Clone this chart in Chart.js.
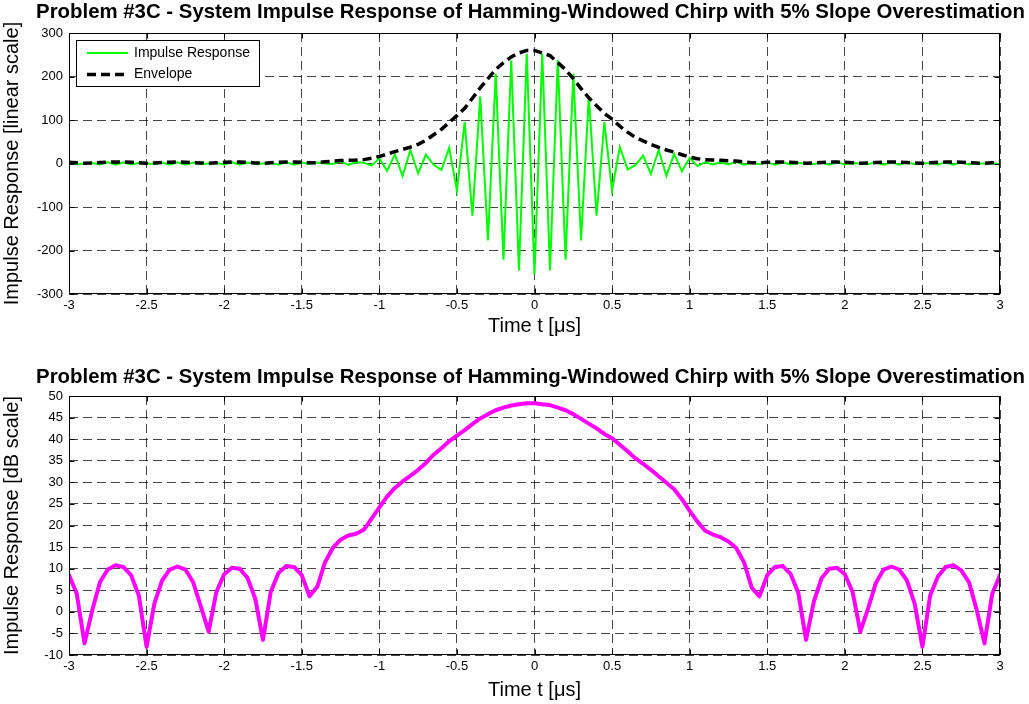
<!DOCTYPE html>
<html>
<head>
<meta charset="utf-8">
<title>System Impulse Response</title>
<script src="https://cdn.jsdelivr.net/npm/chart.js@4.4.1/dist/chart.umd.min.js"></script>
<style>
  html, body { margin: 0; padding: 0; background: #fff; }
  #wrap { position: relative; width: 1029px; height: 704px; overflow: hidden; background: #fff; }
  canvas { position: absolute; left: 0; }
  #linChart { top: 0; }
  #dbChart { top: 360px; }
</style>
</head>
<body>
<div id="wrap">
  <canvas id="linChart" width="1029" height="360"></canvas>
  <canvas id="dbChart" width="1029" height="344"></canvas>
</div>
<script>
// Sample times in microseconds
const timeUs = [
  -3.00, -2.95, -2.90, -2.85, -2.80, -2.75, -2.70, -2.65, -2.60, -2.55,
  -2.50, -2.45, -2.40, -2.35, -2.30, -2.25, -2.20, -2.15, -2.10, -2.05,
  -2.00, -1.95, -1.90, -1.85, -1.80, -1.75, -1.70, -1.65, -1.60, -1.55,
  -1.50, -1.45, -1.40, -1.35, -1.30, -1.25, -1.20, -1.15, -1.10, -1.05,
  -1.00, -0.95, -0.90, -0.85, -0.80, -0.75, -0.70, -0.65, -0.60, -0.55,
  -0.50, -0.45, -0.40, -0.35, -0.30, -0.25, -0.20, -0.15, -0.10, -0.05,
   0.00,  0.05,  0.10,  0.15,  0.20,  0.25,  0.30,  0.35,  0.40,  0.45,
   0.50,  0.55,  0.60,  0.65,  0.70,  0.75,  0.80,  0.85,  0.90,  0.95,
   1.00,  1.05,  1.10,  1.15,  1.20,  1.25,  1.30,  1.35,  1.40,  1.45,
   1.50,  1.55,  1.60,  1.65,  1.70,  1.75,  1.80,  1.85,  1.90,  1.95,
   2.00,  2.05,  2.10,  2.15,  2.20,  2.25,  2.30,  2.35,  2.40,  2.45,
   2.50,  2.55,  2.60,  2.65,  2.70,  2.75,  2.80,  2.85,  2.90,  2.95,
   3.00
];

// Compressed pulse, linear amplitude
const impulseResponse = [
     2,   -1,    0,    1,   -2,    3,   -3,    3,   -2,    1,
     0,   -1,    2,   -3,    3,   -3,    2,   -1,    0,    1,
    -2,    3,   -3,    2,   -1,    0,    1,   -2,    3,   -3,
     2,   -1,    2,    0,   -1,    5,   -3,    3,    2,   -5,
    12,  -17,   21,  -29,   31,  -23,   20,   -3,  -15,   36,
   -62,   95, -120,  154, -177,  206, -221,  237, -246,  252,
  -255,  252, -246,  238, -221,  206, -177,  154, -120,   95,
   -62,   38,  -14,   -4,   18,  -24,   31,  -28,   22,  -18,
    13,   -6,    3,   -2,    3,   -2,    4,   -3,    1,   -1,
     2,   -3,    3,   -2,    1,    0,   -1,    2,   -3,    3,
    -2,    1,    0,   -1,    2,   -3,    3,   -3,    2,   -1,
     0,    1,   -2,    3,   -3,    3,   -2,    0,    0,    1,
    -2
];

// Magnitude envelope, linear amplitude
const envelope = [
   2.7,  1.6,  0.4,  1.0,  2.2,  3.1,  3.5,  3.3,  2.7,  1.5,
   0.4,  1.2,  2.3,  3.1,  3.3,  3.1,  2.2,  1.1,  0.6,  1.7,
   2.7,  3.2,  3.2,  2.5,  1.4,  0.5,  1.7,  2.8,  3.4,  3.3,
   2.7,  1.5,  1.9,  3.8,  5.5,  6.8,  7.7,  8.0,  8.9, 12.0,
  16.2, 21.6, 27.2, 32.4, 37.6, 44.2, 53.1, 66.1, 78.5, 94.4,
   110,  127,  150,  174,  195,  216,  232,  245,  254,  260,
   260,  254,  248,  232,  216,  195,  172,  151,  133,  115,
   102,   86,   72,   60,   52,   44,   37,   31, 26.3, 20.2,
  14.8, 11.1,  8.7,  7.9,  7.3,  6.5,  5.5,  3.8,  1.9,  1.5,
   2.7,  3.3,  3.4,  2.8,  1.7,  0.5,  1.3,  2.5,  3.2,  3.2,
   2.7,  1.7,  0.6,  1.1,  2.2,  3.1,  3.3,  3.1,  2.3,  1.2,
   0.4,  1.5,  2.6,  3.3,  3.5,  3.0,  2.2,  1.0,  0.4,  1.6,
   2.7
];

// Magnitude envelope in dB
const responseDb = [
   8.5,  4.2, -7.3,  0.4,  6.9,  9.8, 10.8, 10.4,  8.5,  3.8,
  -8.1,  1.9,  7.3,  9.8, 10.5,  9.8,  6.9,  1.2, -4.6,  4.6,
   8.7, 10.2, 10.0,  7.9,  3.1, -6.5,  4.6,  9.0, 10.6, 10.4,
   8.5,  3.6,  5.8, 11.5, 14.8, 16.7, 17.7, 18.1, 19.0, 21.6,
  24.2, 26.7, 28.7, 30.2, 31.5, 32.9, 34.5, 36.4, 37.9, 39.5,
  40.8, 42.1, 43.5, 44.8, 45.8, 46.7, 47.3, 47.8, 48.1, 48.3,
  48.3, 48.1, 47.9, 47.3, 46.7, 45.8, 44.7, 43.6, 42.5, 41.2,
  40.2, 38.7, 37.2, 35.6, 34.3, 32.9, 31.4, 29.9, 28.4, 26.1,
  23.4, 20.9, 18.8, 17.9, 17.3, 16.3, 14.8, 11.5,  5.6,  3.6,
   8.5, 10.4, 10.6,  8.8,  4.4, -6.5,  2.3,  7.8, 10.0, 10.2,
   8.7,  4.6, -4.6,  0.8,  6.7,  9.8, 10.5,  9.8,  7.3,  1.9,
  -8.1,  3.8,  8.2, 10.4, 10.8,  9.6,  6.9,  0.4, -7.3,  4.2,
   8.5
];

// Axis ranges and tick spacing
const timeRange = [-3, 3];
const timeStep = 0.5;
const linearRange = [-300, 300];
const linearStep = 100;
const dbRange = [-10, 50];
const dbStep = 5;

const plotTitle = 'Problem #3C - System Impulse Response of Hamming-Windowed Chirp with 5% Slope Overestimation';
const timeLabel = 'Time t [\u03bcs]';
const linearLabel = 'Impulse Response [linear scale]';
const dbLabel = 'Impulse Response [dB scale]';
const seriesNames = ['Impulse Response', 'Envelope'];

const FONT = "'Liberation Sans', Arial, Helvetica, sans-serif";
const GRID_COLOR = 'rgba(0,0,0,0.72)';
const GRID_DASH = [9, 5];

Chart.defaults.font.family = FONT;
Chart.defaults.color = '#000';

const toPoints = (values) => timeUs.map((t, i) => ({ x: t, y: values[i] }));

// Tick text without trailing zeros: -3, -2.5, 0, 0.5 ...
const plainTick = (v) => String(Number(Number(v).toFixed(2)));

// Title centred over the plot box
const axesTitle = {
  id: 'axesTitle',
  afterDraw(chart, args, opts) {
    const { ctx, chartArea: a } = chart;
    ctx.save();
    ctx.fillStyle = '#000';
    ctx.font = `bold ${opts.size}px ${FONT}`;
    ctx.textAlign = 'center';
    ctx.textBaseline = 'middle';
    ctx.fillText(opts.text, (a.left + a.right) / 2 + opts.dx, opts.y);
    ctx.restore();
  }
};

// Box outline plus inward tick marks on all four sides
const axesFrame = {
  id: 'axesFrame',
  afterDatasetsDraw(chart) {
    const { ctx, chartArea: a, scales } = chart;
    const xs = scales.x, ys = scales.y;
    const L = Math.round(a.left) + 0.5, R = Math.round(a.right) - 0.5;
    const T = Math.round(a.top) + 0.5, B = Math.round(a.bottom) - 0.5;
    const len = 5;
    ctx.save();
    ctx.strokeStyle = '#000';
    ctx.lineWidth = 1;
    ctx.setLineDash([]);
    ctx.beginPath();
    xs.ticks.forEach(t => {
      const px = Math.round(xs.getPixelForValue(t.value)) + 0.5;
      ctx.moveTo(px, B); ctx.lineTo(px, B - len);
      ctx.moveTo(px, T); ctx.lineTo(px, T + len);
    });
    ys.ticks.forEach(t => {
      const py = Math.round(ys.getPixelForValue(t.value)) + 0.5;
      ctx.moveTo(L, py); ctx.lineTo(L + len, py);
      ctx.moveTo(R, py); ctx.lineTo(R - len, py);
    });
    ctx.stroke();
    ctx.strokeRect(L, T, R - L, B - T);
    ctx.restore();
  }
};

// Legend box drawn inside the upper-left corner of the plot
const insetLegend = {
  id: 'insetLegend',
  afterDraw(chart, args, opts) {
    if (!opts.display) return;
    const { ctx, chartArea: a } = chart;
    const x0 = Math.round(a.left + opts.offsetX), y0 = Math.round(a.top + opts.offsetY);
    ctx.save();
    ctx.fillStyle = '#fff';
    ctx.fillRect(x0, y0, opts.width, opts.height);
    ctx.strokeStyle = '#000';
    ctx.lineWidth = 1;
    ctx.setLineDash([]);
    ctx.strokeRect(x0 + 0.5, y0 + 0.5, opts.width, opts.height);
    opts.order.forEach((dsIndex, k) => {
      const ds = chart.data.datasets[dsIndex];
      const cy = y0 + opts.firstRow + k * opts.rowGap;
      ctx.beginPath();
      ctx.setLineDash(ds.borderDash || []);
      ctx.lineWidth = ds.borderWidth;
      ctx.strokeStyle = ds.borderColor;
      ctx.moveTo(x0 + opts.lineStart, cy);
      ctx.lineTo(x0 + opts.lineEnd, cy);
      ctx.stroke();
      ctx.setLineDash([]);
      ctx.fillStyle = '#000';
      ctx.font = `${opts.fontSize}px ${FONT}`;
      ctx.textAlign = 'left';
      ctx.textBaseline = 'middle';
      ctx.fillText(ds.label, x0 + opts.textStart, cy);
    });
    ctx.restore();
  }
};

function axisOptions(range, step, label, fitSize, horizontal, titlePad) {
  const opts = {
    type: 'linear',
    min: range[0],
    max: range[1],
    ticks: {
      stepSize: step,
      color: '#000',
      font: { family: FONT, size: 13 },
      padding: horizontal ? 4 : 6,
      maxRotation: 0,
      autoSkip: false,
      callback: plainTick
    },
    grid: { color: GRID_COLOR, lineWidth: 1, drawTicks: false },
    border: { display: false, dash: GRID_DASH },
    title: {
      display: true,
      text: label,
      color: '#000',
      font: { family: FONT, size: 20 },
      padding: titlePad
    }
  };
  if (horizontal) {
    opts.afterFit = (s) => { s.height = fitSize; };
  } else {
    opts.afterFit = (s) => { s.width = fitSize; };
  }
  return opts;
}

// Linear-scale plot
new Chart(document.getElementById('linChart'), {
  type: 'line',
  data: {
    datasets: [
      {
        label: seriesNames[0],
        data: toPoints(impulseResponse),
        borderColor: '#00ff00',
        borderWidth: 2,
        borderJoinStyle: 'miter',
        pointRadius: 0,
        tension: 0,
        order: 2
      },
      {
        label: seriesNames[1],
        data: toPoints(envelope),
        borderColor: '#000000',
        borderWidth: 3.5,
        borderDash: [9, 5],
        pointRadius: 0,
        tension: 0,
        order: 1
      }
    ]
  },
  options: {
    responsive: false,
    animation: false,
    devicePixelRatio: 1,
    layout: { padding: { top: 33, right: 29, left: 0, bottom: 0 } },
    scales: {
      x: axisOptions(timeRange, timeStep, timeLabel, 66, true, { top: 0, bottom: 22 }),
      y: axisOptions(linearRange, linearStep, linearLabel, 69, false, { top: 0, bottom: 0 })
    },
    plugins: {
      legend: { display: false },
      tooltip: { enabled: false },
      axesTitle: { text: plotTitle, y: 12, size: 20.4, dx: -4 },
      insetLegend: {
        display: true, order: [0, 1],
        offsetX: 7, offsetY: 7, width: 183, height: 46,
        firstRow: 13, rowGap: 21.5,
        lineStart: 11, lineEnd: 52, textStart: 58, fontSize: 14
      }
    }
  },
  plugins: [axesFrame, axesTitle, insetLegend]
});

// dB-scale plot
new Chart(document.getElementById('dbChart'), {
  type: 'line',
  data: {
    datasets: [
      {
        label: 'Envelope (dB)',
        data: toPoints(responseDb),
        borderColor: '#ff00ff',
        borderWidth: 4,
        borderJoinStyle: 'round',
        borderCapStyle: 'round',
        pointRadius: 0,
        tension: 0
      }
    ]
  },
  options: {
    responsive: false,
    animation: false,
    devicePixelRatio: 1,
    layout: { padding: { top: 36, right: 29, left: 0, bottom: 0 } },
    scales: {
      x: axisOptions(timeRange, timeStep, timeLabel, 49, true, { top: 0, bottom: 2 }),
      y: axisOptions(dbRange, dbStep, dbLabel, 69, false, { top: 0, bottom: 0 })
    },
    plugins: {
      legend: { display: false },
      tooltip: { enabled: false },
      axesTitle: { text: plotTitle, y: 17, size: 20.4, dx: -4 },
      insetLegend: { display: false }
    }
  },
  plugins: [axesFrame, axesTitle, insetLegend]
});
</script>
</body>
</html>
